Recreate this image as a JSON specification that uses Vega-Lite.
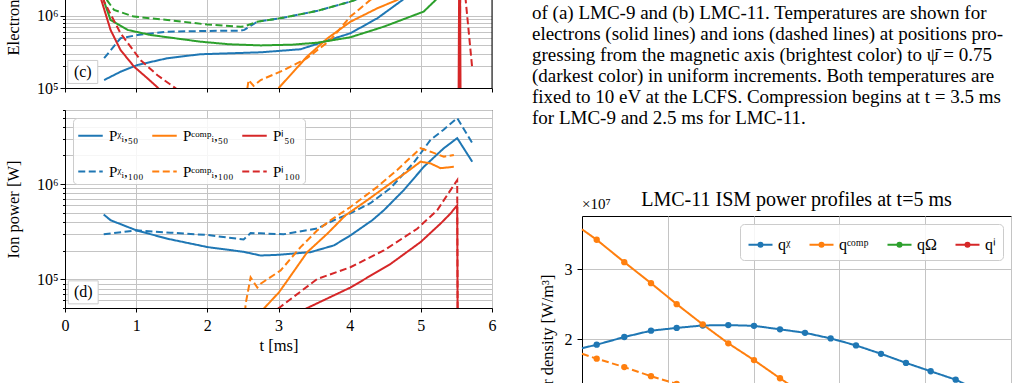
{
 "$schema": "https://vega.github.io/schema/vega-lite/v6.json",
 "background": "white",
 "padding": {"left": 4, "top": -115, "right": 0, "bottom": 0},
 "config": {
  "font": "Liberation Serif",
  "view": {"stroke": null},
  "axis": {"labelFont": "Liberation Serif", "titleFont": "Liberation Serif", "labelColor": "black", "titleColor": "black", "tickColor": "black", "domainColor": "black", "gridColor": "#c4c4c4", "gridWidth": 1, "labelFontSize": 16, "titleFontSize": 16.5, "titleFontWeight": "normal", "labelOverlap": false, "labelFlush": false},
  "legend": {"labelFont": "Liberation Serif", "labelColor": "black", "titleFont": "Liberation Serif"},
  "title": {"font": "Liberation Serif", "fontWeight": "normal", "color": "black"}
 },
 "datasets": {
  "elec": [
   {"s":"chi50","t":0.55,"p":129000},{"s":"chi50","t":0.78,"p":168000},{"s":"chi50","t":1.02,"p":209000},{"s":"chi50","t":1.44,"p":259000},{"s":"chi50","t":1.9,"p":294000},{"s":"chi50","t":2.75,"p":313000},{"s":"chi50","t":3.31,"p":345000},{"s":"chi50","t":3.64,"p":440000},{"s":"chi50","t":4.01,"p":575000},{"s":"chi50","t":4.39,"p":930000},{"s":"chi50","t":4.74,"p":1660000},{"s":"chi50","t":5.0,"p":2600000},{"s":"chi50","t":5.3,"p":4500000},{"s":"chi50","t":5.5,"p":6000000},{"s":"chi50","t":5.7,"p":4000000},
   {"s":"chi100","t":0.55,"p":259000},{"s":"chi100","t":0.78,"p":490000},{"s":"chi100","t":1.02,"p":544000},{"s":"chi100","t":1.44,"p":605000},{"s":"chi100","t":2.0,"p":620000},{"s":"chi100","t":2.47,"p":625000},{"s":"chi100","t":2.52,"p":640000},{"s":"chi100","t":2.7,"p":830000},{"s":"chi100","t":3.08,"p":950000},{"s":"chi100","t":3.55,"p":1180000},{"s":"chi100","t":4.01,"p":1580000},{"s":"chi100","t":4.4,"p":2200000},{"s":"chi100","t":5.0,"p":4000000},{"s":"chi100","t":5.5,"p":8000000},{"s":"chi100","t":5.7,"p":5000000},
   {"s":"comp50","t":2.93,"p":70000},{"s":"comp50","t":3.01,"p":102000},{"s":"comp50","t":3.21,"p":168000},{"s":"comp50","t":3.4,"p":272000},{"s":"comp50","t":3.69,"p":490000},{"s":"comp50","t":4.01,"p":830000},{"s":"comp50","t":4.39,"p":1280000},{"s":"comp50","t":4.67,"p":1670000},{"s":"comp50","t":5.0,"p":2500000},{"s":"comp50","t":5.5,"p":3500000},
   {"s":"comp100","t":2.54,"p":70000},{"s":"comp100","t":2.58,"p":129000},{"s":"comp100","t":2.65,"p":107000},{"s":"comp100","t":2.75,"p":129000},{"s":"comp100","t":3.08,"p":178000},{"s":"comp100","t":3.4,"p":259000},{"s":"comp100","t":3.73,"p":464000},{"s":"comp100","t":4.01,"p":980000},{"s":"comp100","t":4.29,"p":1670000},{"s":"comp100","t":4.8,"p":3000000},{"s":"comp100","t":5.5,"p":5000000},
   {"s":"ohm50","t":0.5,"p":2500000},{"s":"ohm50","t":0.55,"p":1580000},{"s":"ohm50","t":0.64,"p":880000},{"s":"ohm50","t":0.88,"p":640000},{"s":"ohm50","t":1.2,"p":545000},{"s":"ohm50","t":1.9,"p":440000},{"s":"ohm50","t":2.3,"p":405000},{"s":"ohm50","t":2.75,"p":390000},{"s":"ohm50","t":3.2,"p":400000},{"s":"ohm50","t":3.55,"p":426000},{"s":"ohm50","t":4.01,"p":506000},{"s":"ohm50","t":4.48,"p":710000},{"s":"ohm50","t":5.04,"p":1150000},{"s":"ohm50","t":5.21,"p":1670000},{"s":"ohm50","t":5.4,"p":3000000},{"s":"ohm50","t":5.6,"p":5000000},
   {"s":"ohm100","t":0.5,"p":2200000},{"s":"ohm100","t":0.69,"p":1210000},{"s":"ohm100","t":0.97,"p":980000},{"s":"ohm100","t":1.44,"p":880000},{"s":"ohm100","t":2.0,"p":760000},{"s":"ohm100","t":2.47,"p":710000},{"s":"ohm100","t":2.52,"p":715000},{"s":"ohm100","t":2.7,"p":830000},{"s":"ohm100","t":3.08,"p":950000},{"s":"ohm100","t":3.55,"p":1180000},{"s":"ohm100","t":4.01,"p":1580000},{"s":"ohm100","t":4.4,"p":2200000},{"s":"ohm100","t":5.0,"p":4000000},{"s":"ohm100","t":5.5,"p":8000000},{"s":"ohm100","t":5.7,"p":5000000},
   {"s":"i50","t":0.5,"p":1800000},{"s":"i50","t":0.64,"p":640000},{"s":"i50","t":0.78,"p":337000},{"s":"i50","t":0.97,"p":198000},{"s":"i50","t":1.16,"p":136000},{"s":"i50","t":1.3,"p":102000},{"s":"i50","t":1.45,"p":70000},{"s":"i50","t":2.5,"p":30000},{"s":"i50","t":4.0,"p":30000},{"s":"i50","t":5.53,"p":60000},{"s":"i50","t":5.545,"p":60000000},{"s":"i50","t":5.56,"p":30000},
   {"s":"i100","t":0.5,"p":2500000},{"s":"i100","t":0.55,"p":1580000},{"s":"i100","t":0.78,"p":575000},{"s":"i100","t":1.06,"p":245000},{"s":"i100","t":1.3,"p":150000},{"s":"i100","t":1.555,"p":99000},{"s":"i100","t":1.7,"p":70000},{"s":"i100","t":3.0,"p":30000},{"s":"i100","t":5.545,"p":40000},{"s":"i100","t":5.56,"p":80000000},{"s":"i100","t":5.63,"p":1670000},{"s":"i100","t":5.72,"p":198000}
  ],
  "ion": [
   {"s":"Pᵡᵢ,₅₀","t":0.544,"p":479000},{"s":"Pᵡᵢ,₅₀","t":0.642,"p":417000},{"s":"Pᵡᵢ,₅₀","t":1.003,"p":327000},{"s":"Pᵡᵢ,₅₀","t":1.438,"p":267000},{"s":"Pᵡᵢ,₅₀","t":2.004,"p":218000},{"s":"Pᵡᵢ,₅₀","t":2.5,"p":195000},{"s":"Pᵡᵢ,₅₀","t":2.749,"p":178000},{"s":"Pᵡᵢ,₅₀","t":3.006,"p":181000},{"s":"Pᵡᵢ,₅₀","t":3.45,"p":193000},{"s":"Pᵡᵢ,₅₀","t":3.778,"p":227000},{"s":"Pᵡᵢ,₅₀","t":4.01,"p":289000},{"s":"Pᵡᵢ,₅₀","t":4.317,"p":417000},{"s":"Pᵡᵢ,₅₀","t":4.48,"p":531000},{"s":"Pᵡᵢ,₅₀","t":4.761,"p":865000},{"s":"Pᵡᵢ,₅₀","t":5.042,"p":1520000},{"s":"Pᵡᵢ,₅₀","t":5.323,"p":2380000},{"s":"Pᵡᵢ,₅₀","t":5.511,"p":3040000},{"s":"Pᵡᵢ,₅₀","t":5.722,"p":1720000},
   {"s":"Pᵡᵢ,₁₀₀","t":0.544,"p":297000},{"s":"Pᵡᵢ,₁₀₀","t":1.003,"p":327000},{"s":"Pᵡᵢ,₁₀₀","t":1.48,"p":309000},{"s":"Pᵡᵢ,₁₀₀","t":2.004,"p":292000},{"s":"Pᵡᵢ,₁₀₀","t":2.51,"p":262000},{"s":"Pᵡᵢ,₁₀₀","t":2.608,"p":306000},{"s":"Pᵡᵢ,₁₀₀","t":2.749,"p":304000},{"s":"Pᵡᵢ,₁₀₀","t":3.07,"p":297000},{"s":"Pᵡᵢ,₁₀₀","t":3.55,"p":343000},{"s":"Pᵡᵢ,₁₀₀","t":3.778,"p":417000},{"s":"Pᵡᵢ,₁₀₀","t":4.01,"p":494000},{"s":"Pᵡᵢ,₁₀₀","t":4.29,"p":630000},{"s":"Pᵡᵢ,₁₀₀","t":4.575,"p":910000},{"s":"Pᵡᵢ,₁₀₀","t":4.898,"p":1670000},{"s":"Pᵡᵢ,₁₀₀","t":5.137,"p":2920000},{"s":"Pᵡᵢ,₁₀₀","t":5.32,"p":3720000},{"s":"Pᵡᵢ,₁₀₀","t":5.511,"p":4940000},{"s":"Pᵡᵢ,₁₀₀","t":5.722,"p":2710000},
   {"s":"Pᶜᵒᵐᵖᵢ,₅₀","t":2.76,"p":45000},{"s":"Pᶜᵒᵐᵖᵢ,₅₀","t":2.795,"p":49400},{"s":"Pᶜᵒᵐᵖᵢ,₅₀","t":3.006,"p":72900},{"s":"Pᶜᵒᵐᵖᵢ,₅₀","t":3.124,"p":97000},{"s":"Pᶜᵒᵐᵖᵢ,₅₀","t":3.404,"p":193000},{"s":"Pᶜᵒᵐᵖᵢ,₅₀","t":3.685,"p":301000},{"s":"Pᶜᵒᵐᵖᵢ,₅₀","t":3.872,"p":417000},{"s":"Pᶜᵒᵐᵖᵢ,₅₀","t":3.943,"p":471000},{"s":"Pᶜᵒᵐᵖᵢ,₅₀","t":4.247,"p":678000},{"s":"Pᶜᵒᵐᵖᵢ,₅₀","t":4.574,"p":1020000},{"s":"Pᶜᵒᵐᵖᵢ,₅₀","t":4.809,"p":1350000},{"s":"Pᶜᵒᵐᵖᵢ,₅₀","t":4.996,"p":1720000},{"s":"Pᶜᵒᵐᵖᵢ,₅₀","t":5.136,"p":1650000},{"s":"Pᶜᵒᵐᵖᵢ,₅₀","t":5.277,"p":1470000},{"s":"Pᶜᵒᵐᵖᵢ,₅₀","t":5.464,"p":1520000},
   {"s":"Pᶜᵒᵐᵖᵢ,₁₀₀","t":2.53,"p":45000},{"s":"Pᶜᵒᵐᵖᵢ,₁₀₀","t":2.538,"p":55000},{"s":"Pᶜᵒᵐᵖᵢ,₁₀₀","t":2.608,"p":105000},{"s":"Pᶜᵒᵐᵖᵢ,₁₀₀","t":2.702,"p":82000},{"s":"Pᶜᵒᵐᵖᵢ,₁₀₀","t":2.749,"p":90000},{"s":"Pᶜᵒᵐᵖᵢ,₁₀₀","t":3.03,"p":124000},{"s":"Pᶜᵒᵐᵖᵢ,₁₀₀","t":3.31,"p":218000},{"s":"Pᶜᵒᵐᵖᵢ,₁₀₀","t":3.545,"p":327000},{"s":"Pᶜᵒᵐᵖᵢ,₁₀₀","t":3.73,"p":417000},{"s":"Pᶜᵒᵐᵖᵢ,₁₀₀","t":4.01,"p":575000},{"s":"Pᶜᵒᵐᵖᵢ,₁₀₀","t":4.388,"p":935000},{"s":"Pᶜᵒᵐᵖᵢ,₁₀₀","t":4.668,"p":1410000},{"s":"Pᶜᵒᵐᵖᵢ,₁₀₀","t":4.996,"p":2380000},{"s":"Pᶜᵒᵐᵖᵢ,₁₀₀","t":5.136,"p":2190000},{"s":"Pᶜᵒᵐᵖᵢ,₁₀₀","t":5.323,"p":1940000},{"s":"Pᶜᵒᵐᵖᵢ,₁₀₀","t":5.464,"p":2020000},
   {"s":"Pⁱ₅₀","t":3.38,"p":49000},{"s":"Pⁱ₅₀","t":4.01,"p":82000},{"s":"Pⁱ₅₀","t":4.574,"p":145000},{"s":"Pⁱ₅₀","t":4.996,"p":246000},{"s":"Pⁱ₅₀","t":5.277,"p":385000},{"s":"Pⁱ₅₀","t":5.417,"p":491000},{"s":"Pⁱ₅₀","t":5.511,"p":600000},{"s":"Pⁱ₅₀","t":5.52,"p":10000},
   {"s":"Pⁱ₁₀₀","t":2.99,"p":49000},{"s":"Pⁱ₁₀₀","t":3.03,"p":51600},{"s":"Pⁱ₁₀₀","t":3.545,"p":101000},{"s":"Pⁱ₁₀₀","t":4.01,"p":134000},{"s":"Pⁱ₁₀₀","t":4.48,"p":201000},{"s":"Pⁱ₁₀₀","t":4.949,"p":340000},{"s":"Pⁱ₁₀₀","t":5.23,"p":531000},{"s":"Pⁱ₁₀₀","t":5.417,"p":865000},{"s":"Pⁱ₁₀₀","t":5.511,"p":1100000},{"s":"Pⁱ₁₀₀","t":5.52,"p":10000}
  ],
  "prof": [
   {"q":"qᵡ","d":"e","x":0,"v":1.87,"m":0},{"q":"qᵡ","d":"e","x":0.0343,"v":1.92,"m":1},{"q":"qᵡ","d":"e","x":0.0986,"v":2.03,"m":1},{"q":"qᵡ","d":"e","x":0.1608,"v":2.12,"m":1},{"q":"qᵡ","d":"e","x":0.2207,"v":2.16,"m":1},{"q":"qᵡ","d":"e","x":0.2814,"v":2.195,"m":1},{"q":"qᵡ","d":"e","x":0.341,"v":2.2,"m":1},{"q":"qᵡ","d":"e","x":0.4009,"v":2.19,"m":1},{"q":"qᵡ","d":"e","x":0.4615,"v":2.14,"m":1},{"q":"qᵡ","d":"e","x":0.5198,"v":2.09,"m":1},{"q":"qᵡ","d":"e","x":0.5797,"v":2.01,"m":1},{"q":"qᵡ","d":"e","x":0.6387,"v":1.91,"m":1},{"q":"qᵡ","d":"e","x":0.697,"v":1.79,"m":1},{"q":"qᵡ","d":"e","x":0.7552,"v":1.66,"m":1},{"q":"qᵡ","d":"e","x":0.8128,"v":1.54,"m":1},{"q":"qᵡ","d":"e","x":0.8711,"v":1.42,"m":1},{"q":"qᵡ","d":"e","x":0.929,"v":1.25,"m":1},{"q":"qᵡ","d":"e","x":0.986,"v":1.02,"m":1},
   {"q":"qᶜᵒᵐᵖ","d":"e","x":0,"v":3.57,"m":0},{"q":"qᶜᵒᵐᵖ","d":"e","x":0.0343,"v":3.42,"m":1},{"q":"qᶜᵒᵐᵖ","d":"e","x":0.0986,"v":3.10,"m":1},{"q":"qᶜᵒᵐᵖ","d":"e","x":0.1608,"v":2.80,"m":1},{"q":"qᶜᵒᵐᵖ","d":"e","x":0.2207,"v":2.50,"m":1},{"q":"qᶜᵒᵐᵖ","d":"e","x":0.2814,"v":2.21,"m":1},{"q":"qᶜᵒᵐᵖ","d":"e","x":0.341,"v":1.94,"m":1},{"q":"qᶜᵒᵐᵖ","d":"e","x":0.4009,"v":1.70,"m":1},{"q":"qᶜᵒᵐᵖ","d":"e","x":0.4615,"v":1.44,"m":1},{"q":"qᶜᵒᵐᵖ","d":"e","x":0.5198,"v":1.20,"m":1},{"q":"qᶜᵒᵐᵖ","d":"e","x":0.5797,"v":0.98,"m":1},{"q":"qᶜᵒᵐᵖ","d":"e","x":0.6387,"v":0.78,"m":1},{"q":"qᶜᵒᵐᵖ","d":"e","x":0.697,"v":0.60,"m":1},{"q":"qᶜᵒᵐᵖ","d":"e","x":0.7552,"v":0.45,"m":1},{"q":"qᶜᵒᵐᵖ","d":"e","x":0.8128,"v":0.32,"m":1},{"q":"qᶜᵒᵐᵖ","d":"e","x":0.8711,"v":0.20,"m":1},{"q":"qᶜᵒᵐᵖ","d":"e","x":0.929,"v":0.10,"m":1},{"q":"qᶜᵒᵐᵖ","d":"e","x":0.986,"v":0.03,"m":1},
   {"q":"qᶜᵒᵐᵖ","d":"i","x":0,"v":1.79,"m":0},{"q":"qᶜᵒᵐᵖ","d":"i","x":0.0343,"v":1.72,"m":1},{"q":"qᶜᵒᵐᵖ","d":"i","x":0.0986,"v":1.60,"m":1},{"q":"qᶜᵒᵐᵖ","d":"i","x":0.1608,"v":1.47,"m":1},{"q":"qᶜᵒᵐᵖ","d":"i","x":0.2207,"v":1.36,"m":1},{"q":"qᶜᵒᵐᵖ","d":"i","x":0.2814,"v":1.24,"m":1},{"q":"qᶜᵒᵐᵖ","d":"i","x":0.341,"v":1.12,"m":1},{"q":"qᶜᵒᵐᵖ","d":"i","x":0.4009,"v":1.00,"m":1},{"q":"qᶜᵒᵐᵖ","d":"i","x":0.4615,"v":0.88,"m":1},{"q":"qᶜᵒᵐᵖ","d":"i","x":0.5198,"v":0.77,"m":1},{"q":"qᶜᵒᵐᵖ","d":"i","x":0.5797,"v":0.66,"m":1},{"q":"qᶜᵒᵐᵖ","d":"i","x":0.6387,"v":0.56,"m":1},{"q":"qᶜᵒᵐᵖ","d":"i","x":0.697,"v":0.46,"m":1},{"q":"qᶜᵒᵐᵖ","d":"i","x":0.7552,"v":0.37,"m":1},{"q":"qᶜᵒᵐᵖ","d":"i","x":0.8128,"v":0.28,"m":1},{"q":"qᶜᵒᵐᵖ","d":"i","x":0.8711,"v":0.19,"m":1},{"q":"qᶜᵒᵐᵖ","d":"i","x":0.929,"v":0.11,"m":1},{"q":"qᶜᵒᵐᵖ","d":"i","x":0.986,"v":0.04,"m":1},
   {"q":"qΩ","d":"e","x":0,"v":0.35,"m":0},{"q":"qΩ","d":"e","x":0.0343,"v":0.34,"m":1},{"q":"qΩ","d":"e","x":0.0986,"v":0.32,"m":1},{"q":"qΩ","d":"e","x":0.1608,"v":0.29,"m":1},{"q":"qΩ","d":"e","x":0.2207,"v":0.26,"m":1},{"q":"qΩ","d":"e","x":0.2814,"v":0.23,"m":1},{"q":"qΩ","d":"e","x":0.341,"v":0.20,"m":1},{"q":"qΩ","d":"e","x":0.4009,"v":0.17,"m":1},{"q":"qΩ","d":"e","x":0.4615,"v":0.14,"m":1},{"q":"qΩ","d":"e","x":0.5198,"v":0.12,"m":1},{"q":"qΩ","d":"e","x":0.5797,"v":0.10,"m":1},{"q":"qΩ","d":"e","x":0.6387,"v":0.08,"m":1},{"q":"qΩ","d":"e","x":0.697,"v":0.06,"m":1},{"q":"qΩ","d":"e","x":0.7552,"v":0.05,"m":1},{"q":"qΩ","d":"e","x":0.8128,"v":0.04,"m":1},{"q":"qΩ","d":"e","x":0.8711,"v":0.03,"m":1},{"q":"qΩ","d":"e","x":0.929,"v":0.02,"m":1},{"q":"qΩ","d":"e","x":0.986,"v":0.01,"m":1},
   {"q":"qⁱ","d":"e","x":0,"v":1.0,"m":0},{"q":"qⁱ","d":"e","x":0.0343,"v":0.98,"m":1},{"q":"qⁱ","d":"e","x":0.0986,"v":0.94,"m":1},{"q":"qⁱ","d":"e","x":0.1608,"v":0.88,"m":1},{"q":"qⁱ","d":"e","x":0.2207,"v":0.81,"m":1},{"q":"qⁱ","d":"e","x":0.2814,"v":0.74,"m":1},{"q":"qⁱ","d":"e","x":0.341,"v":0.67,"m":1},{"q":"qⁱ","d":"e","x":0.4009,"v":0.60,"m":1},{"q":"qⁱ","d":"e","x":0.4615,"v":0.53,"m":1},{"q":"qⁱ","d":"e","x":0.5198,"v":0.47,"m":1},{"q":"qⁱ","d":"e","x":0.5797,"v":0.41,"m":1},{"q":"qⁱ","d":"e","x":0.6387,"v":0.35,"m":1},{"q":"qⁱ","d":"e","x":0.697,"v":0.30,"m":1},{"q":"qⁱ","d":"e","x":0.7552,"v":0.25,"m":1},{"q":"qⁱ","d":"e","x":0.8128,"v":0.20,"m":1},{"q":"qⁱ","d":"e","x":0.8711,"v":0.15,"m":1},{"q":"qⁱ","d":"e","x":0.929,"v":0.10,"m":1},{"q":"qⁱ","d":"e","x":0.986,"v":0.05,"m":1}
  ]
 },
 "spacing": 34,
 "resolve": {"scale": {"color": "independent", "strokeDash": "independent", "x": "independent", "y": "independent"}, "legend": {"color": "independent", "strokeDash": "independent"}},
 "hconcat": [
  {
   "spacing": 5,
   "resolve": {"scale": {"color": "independent", "strokeDash": "independent", "x": "independent", "y": "independent"}, "legend": {"color": "independent", "strokeDash": "independent"}},
   "vconcat": [
    {
     "width": 427, "height": 198,
     "layer": [
      {
       "data": {"name": "elec"},
       "mark": {"type": "line", "strokeWidth": 2, "clip": true},
       "encoding": {
        "x": {"field": "t", "type": "quantitative", "scale": {"domain": [0, 6], "nice": false}, "axis": {"values": [0,1,2,3,4,5,6], "labels": false, "title": null, "tickSize": 4, "grid": true, "domain": true}},
        "y": {"field": "p", "type": "quantitative", "scale": {"type": "log", "domain": [100000, 56000000], "nice": false}, "axis": {"values": [100000,200000,300000,400000,500000,600000,700000,800000,900000,1000000,2000000,3000000,4000000,5000000,6000000,7000000,8000000,9000000,10000000,20000000,30000000,40000000,50000000], "labelExpr": "datum.value == 100000 ? '10⁵' : datum.value == 1000000 ? '10⁶' : datum.value == 10000000 ? '10⁷' : ''", "title": "Electron power [W]", "titlePadding": 15, "labelPadding": 2, "grid": true, "domain": true, "tickSize": {"condition": {"test": "datum.value == 100000 || datum.value == 1000000 || datum.value == 10000000", "value": 5}, "value": 2.5}}},
        "color": {"field": "s", "type": "nominal", "scale": {"domain": ["chi50","chi100","comp50","comp100","ohm50","ohm100","i50","i100"], "range": ["#1f77b4","#1f77b4","#ff7f0e","#ff7f0e","#2ca02c","#2ca02c","#d62728","#d62728"]}, "legend": null},
        "strokeDash": {"field": "s", "type": "nominal", "scale": {"domain": ["chi50","chi100","comp50","comp100","ohm50","ohm100","i50","i100"], "range": [[1,0],[7,3.5],[1,0],[7,3.5],[1,0],[7,3.5],[1,0],[7,3.5]]}, "legend": null}
       }
      },
      {"data": {"values": [{}]}, "mark": {"type": "rule", "color": "black", "strokeWidth": 1}, "encoding": {"x": {"datum": 6}}},
      {"data": {"values": [{"t": 0.25, "p": 167000, "lab": "(c)"}]}, "mark": {"type": "point", "shape": "M-1.3,-1H1.3V1H-1.3Z", "filled": true, "fill": "white", "stroke": "#cccccc", "strokeWidth": 1, "size": 529, "opacity": 1}, "encoding": {"x": {"field": "t", "type": "quantitative"}, "y": {"field": "p", "type": "quantitative"}}},
      {"data": {"values": [{"t": 0.25, "p": 167000, "lab": "(c)"}]}, "mark": {"type": "text", "fontSize": 16, "font": "Liberation Serif", "color": "black"}, "encoding": {"x": {"field": "t", "type": "quantitative"}, "y": {"field": "p", "type": "quantitative"}, "text": {"field": "lab"}}}
     ]
    },
    {
     "width": 427, "height": 198,
     "view": {"stroke": "black", "strokeWidth": 1},
     "layer": [
      {
       "data": {"name": "ion"},
       "mark": {"type": "line", "strokeWidth": 2, "clip": true},
       "encoding": {
        "x": {"field": "t", "type": "quantitative", "scale": {"domain": [0, 6], "nice": false}, "axis": {"values": [0,1,2,3,4,5,6], "format": "d", "title": "t [ms]", "tickSize": 4, "labelPadding": 5, "titlePadding": 4, "grid": true, "domain": true}},
        "y": {"field": "p", "type": "quantitative", "scale": {"type": "log", "domain": [50000, 6000000], "nice": false}, "axis": {"values": [50000,60000,70000,80000,90000,100000,200000,300000,400000,500000,600000,700000,800000,900000,1000000,2000000,3000000,4000000,5000000,6000000], "labelExpr": "datum.value == 100000 ? '10⁵' : datum.value == 1000000 ? '10⁶' : ''", "title": "Ion power [W]", "titlePadding": 15, "labelPadding": 2, "grid": true, "domain": true, "tickSize": {"condition": {"test": "datum.value == 100000 || datum.value == 1000000", "value": 5}, "value": 2.5}}},
        "color": {"field": "s", "type": "nominal", "scale": {"domain": ["Pᵡᵢ,₅₀","Pᶜᵒᵐᵖᵢ,₅₀","Pⁱ₅₀","Pᵡᵢ,₁₀₀","Pᶜᵒᵐᵖᵢ,₁₀₀","Pⁱ₁₀₀"], "range": ["#1f77b4","#ff7f0e","#d62728","#1f77b4","#ff7f0e","#d62728"]}, "legend": {"orient": "top-left", "offset": 8, "columns": 3, "direction": "horizontal", "title": null, "symbolType": "stroke", "symbolSize": 600, "symbolStrokeWidth": 2, "labelFontSize": 15, "labelOffset": 5, "fillColor": "rgba(255,255,255,0.85)", "strokeColor": "#cccccc", "cornerRadius": 4, "padding": 4, "rowPadding": 14, "columnPadding": 4}},
        "strokeDash": {"field": "s", "type": "nominal", "scale": {"domain": ["Pᵡᵢ,₅₀","Pᶜᵒᵐᵖᵢ,₅₀","Pⁱ₅₀","Pᵡᵢ,₁₀₀","Pᶜᵒᵐᵖᵢ,₁₀₀","Pⁱ₁₀₀"], "range": [[1,0],[1,0],[1,0],[7,3.5],[7,3.5],[7,3.5]]}, "legend": {"orient": "top-left", "offset": 8, "columns": 3, "direction": "horizontal", "title": null, "symbolType": "stroke", "symbolSize": 600, "symbolStrokeWidth": 2, "labelFontSize": 15, "labelOffset": 5, "fillColor": "rgba(255,255,255,0.85)", "strokeColor": "#cccccc", "cornerRadius": 4, "padding": 4, "rowPadding": 14, "columnPadding": 4}}
       }
      },
      {"data": {"values": [{"t": 0.256, "p": 73000, "lab": "(d)"}]}, "mark": {"type": "point", "shape": "M-1.3,-1H1.3V1H-1.3Z", "filled": true, "fill": "white", "stroke": "#cccccc", "strokeWidth": 1, "size": 529, "opacity": 1}, "encoding": {"x": {"field": "t", "type": "quantitative"}, "y": {"field": "p", "type": "quantitative"}}},
      {"data": {"values": [{"t": 0.256, "p": 73000, "lab": "(d)"}]}, "mark": {"type": "text", "fontSize": 16, "font": "Liberation Serif", "color": "black"}, "encoding": {"x": {"field": "t", "type": "quantitative"}, "y": {"field": "p", "type": "quantitative"}, "text": {"field": "lab"}}}
     ]
    }
   ]
  },
  {
   "spacing": 0,
   "resolve": {"scale": {"color": "independent", "strokeDash": "independent", "x": "independent", "y": "independent"}, "legend": {"color": "independent", "strokeDash": "independent"}},
   "vconcat": [
    {
     "width": 429, "height": 299,
     "data": {"values": [
      {"k": 1, "txt": "of (a) LMC-9 and (b) LMC-11. Temperatures are shown for"},
      {"k": 2, "txt": "electrons (solid lines) and ions (dashed lines) at positions pro-"},
      {"k": 3, "txt": "gressing from the magnetic axis (brightest color) to ψ̄ = 0.75"},
      {"k": 4, "txt": "(darkest color) in uniform increments. Both temperatures are"},
      {"k": 5, "txt": "fixed to 10 eV at the LCFS. Compression begins at t = 3.5 ms"},
      {"k": 6, "txt": "for LMC-9 and 2.5 ms for LMC-11."}
     ]},
     "mark": {"type": "text", "align": "left", "baseline": "alphabetic", "fontSize": 19, "font": "Liberation Serif", "color": "black"},
     "encoding": {
      "x": {"datum": -0.1166, "type": "quantitative", "scale": {"domain": [0, 1]}, "axis": null},
      "y": {"field": "k", "type": "quantitative", "scale": {"domain": [-5.143, 9.095], "reverse": true, "nice": false, "zero": false}, "axis": null},
      "text": {"field": "txt"}
     }
    },
    {
     "width": 429, "height": 263,
     "view": {"stroke": "black", "strokeWidth": 1},
     "data": {"name": "prof"},
     "layer": [
      {
       "mark": {"type": "line", "strokeWidth": 2},
       "encoding": {
        "x": {"field": "x", "type": "quantitative", "scale": {"domain": [0, 1], "nice": false}, "axis": {"values": [0,0.2,0.4,0.6,0.8,1], "format": ".1f", "title": null, "grid": true, "tickSize": 5}},
        "y": {"field": "v", "type": "quantitative", "scale": {"domain": [0, 3.76], "nice": false}, "axis": {"values": [0,1,2,3], "format": "d", "title": "Power density [W/m³]", "grid": true, "tickSize": 5, "labelPadding": 5, "titlePadding": 9}},
        "color": {"field": "q", "type": "nominal", "scale": {"domain": ["qᵡ","qᶜᵒᵐᵖ","qΩ","qⁱ"], "range": ["#1f77b4","#ff7f0e","#2ca02c","#d62728"]}, "legend": {"orient": "top-right", "offset": 8, "direction": "horizontal", "title": null, "symbolType": "M-1,0H1M-0.16,0A0.16,0.16,0,1,1,0.16,0A0.16,0.16,0,1,1,-0.16,0", "symbolSize": 576, "symbolStrokeWidth": 2.2, "labelFontSize": 16, "labelOffset": 4, "fillColor": "rgba(255,255,255,0.85)", "strokeColor": "#cccccc", "cornerRadius": 4, "padding": 7, "columnPadding": 14}},
        "strokeDash": {"field": "d", "type": "nominal", "scale": {"domain": ["e","i"], "range": [[1,0],[7,3.5]]}, "legend": null}
       }
      },
      {
       "transform": [{"filter": "datum.m == 1"}],
       "mark": {"type": "point", "filled": true, "size": 40, "opacity": 1},
       "encoding": {
        "x": {"field": "x", "type": "quantitative"},
        "y": {"field": "v", "type": "quantitative"},
        "color": {"field": "q", "type": "nominal", "scale": {"domain": ["qᵡ","qᶜᵒᵐᵖ","qΩ","qⁱ"], "range": ["#1f77b4","#ff7f0e","#2ca02c","#d62728"]}, "legend": {"orient": "top-right", "offset": 8, "direction": "horizontal", "title": null, "symbolType": "M-1,0H1M-0.16,0A0.16,0.16,0,1,1,0.16,0A0.16,0.16,0,1,1,-0.16,0", "symbolSize": 576, "symbolStrokeWidth": 2.2, "labelFontSize": 16, "labelOffset": 4, "fillColor": "rgba(255,255,255,0.85)", "strokeColor": "#cccccc", "cornerRadius": 4, "padding": 7, "columnPadding": 14}}
       }
      },
      {
       "data": {"values": [{}]},
       "mark": {"type": "text", "text": "×10⁷", "align": "left", "baseline": "bottom", "dy": -4, "fontSize": 15, "font": "Liberation Serif", "color": "black"},
       "encoding": {"x": {"datum": 0}, "y": {"datum": 3.76}}
      },
      {
       "data": {"values": [{}]},
       "mark": {"type": "text", "text": "LMC-11 ISM power profiles at t=5 ms", "align": "center", "baseline": "alphabetic", "dy": -10, "fontSize": 20, "font": "Liberation Serif", "color": "black"},
       "encoding": {"x": {"datum": 0.5}, "y": {"datum": 3.76}}
      }
     ]
    }
   ]
  }
 ]
}
